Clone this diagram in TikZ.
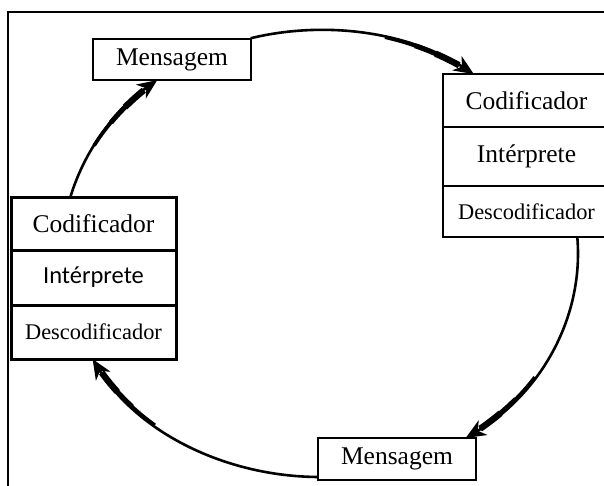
\documentclass[tikz,border=0pt]{standalone}
\usepackage{fontspec}
\setmainfont{Liberation Serif}
\newfontfamily\carlito{Carlito}
\usetikzlibrary{arrows.meta}
\begin{document}
\begin{tikzpicture}[x=1pt,y=-1pt,
  box/.style={draw, line width=1.6pt, rectangle, inner sep=0pt, outer sep=0pt,
    font=\fontsize{25.5}{28}\selectfont},
  thickbox/.style={box, line width=3pt},
  small/.style={font=\fontsize{22.4}{25}\selectfont},
  flow/.style={line width=2.6pt, -{Stealth[length=20pt,width=17pt,inset=6pt]}},
  taperA/.style={line width=3.6pt},
  taperB/.style={line width=5pt},
  taperC/.style={line width=6.4pt},
]
\useasboundingbox (0,0) rectangle (604,485);
\clip (0,0) rectangle (604,485);

% outer frame
\draw[line width=1.5pt] (8,12) rectangle (620,500);

% message boxes
\node[box, minimum width=158pt, minimum height=41pt] (mt) at (172,59.5) {Mensagem};
\node[box, minimum width=158pt, minimum height=42pt] (mb) at (397,459) {Mensagem};

% right stack
\node[box, minimum width=167pt, minimum height=53pt] (rc) at (526.5,100.5) {Codificador};
\node[box, minimum width=167pt, minimum height=59pt] (ri) at (526.5,156.5) {Intérprete};
\node[box, small, minimum width=167pt, minimum height=51pt] (rd) at (526.5,211.5) {Descodificador};

% left stack
\node[thickbox, minimum width=165pt, minimum height=53pt] (lc) at (93.5,223.5) {Codificador};
\node[thickbox, minimum width=165pt, minimum height=55pt, font=\carlito\fontsize{24.5}{27}\selectfont] (li) at (93.5,277.5) {Intérprete};
\node[thickbox, small, minimum width=165pt, minimum height=54pt] (ld) at (93.5,332) {Descodificador};

% cycle around the common centre
\coordinate (O) at (320,253.5);
\def\rx{258}\def\ry{223.5}
% \flowarc{start}{end}: arc of the cycle with a thickening run into the tip
\newcommand\flowarc[2]{%
  \draw[flow] (O) ++(#1:\rx\space and \ry) arc[start angle=#1, end angle=#2, x radius=\rx, y radius=\ry];
  \pgfmathsetmacro\ta{#2-22}\pgfmathsetmacro\tb{#2-15}\pgfmathsetmacro\tc{#2-10}\pgfmathsetmacro\te{#2-4}
  \draw[taperA] (O) ++(\ta:\rx\space and \ry) arc[start angle=\ta, end angle=\te, x radius=\rx, y radius=\ry];
  \draw[taperB] (O) ++(\tb:\rx\space and \ry) arc[start angle=\tb, end angle=\te, x radius=\rx, y radius=\ry];
  \draw[taperC] (O) ++(\tc:\rx\space and \ry) arc[start angle=\tc, end angle=\te, x radius=\rx, y radius=\ry];
}

% Mensagem -> right stack
\flowarc{-105.6}{-53.4}
% right stack -> Mensagem
\flowarc{-4.2}{55.6}
% Mensagem -> left stack
\flowarc{90.4}{151.8}
% left stack -> Mensagem
\flowarc{194.6}{230.9}
\end{tikzpicture}
\end{document}
